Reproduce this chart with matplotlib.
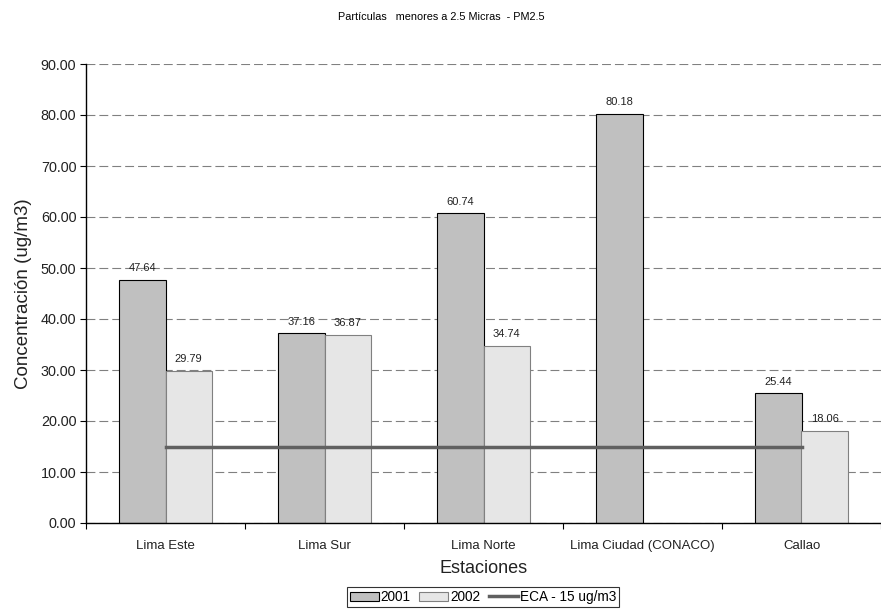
import numpy as np
import matplotlib
matplotlib.use("Agg")
import matplotlib.pyplot as plt

plt.rcParams['font.family'] = ['Liberation Sans', 'DejaVu Sans']

estaciones = ["Lima Este", "Lima Sur", "Lima Norte", "Lima Ciudad (CONACO)", "Callao"]
valores_2001 = [47.64, 37.16, 60.74, 80.18, 25.44]
valores_2002 = [29.79, 36.87, 34.74, np.nan, 18.06]
eca = [15, 15, 15, 15, 15]

fig = plt.figure(figsize=(8.81, 6.15), dpi=100)
ax = fig.add_axes([86 / 881, 1 - 523 / 615, 1 - 86 / 881, (523 - 64) / 615])

x = np.arange(len(estaciones))
w = 0.29
b1 = ax.bar(x - w / 2, valores_2001, w, color="#c0c0c0", edgecolor="#000000", linewidth=0.8, label="2001", zorder=2)
v2 = np.array(valores_2002, dtype=float)
mask = ~np.isnan(v2)
b2 = ax.bar(x[mask] + w / 2, v2[mask], w, color="#e6e6e6", edgecolor="#808080", linewidth=0.8, label="2002", zorder=2)
ln, = ax.plot(x, eca, color="#606060", linewidth=2.5, label="ECA - 15 ug/m3", zorder=3)

for xi, v in zip(x, valores_2001):
    ax.text(xi - w / 2, v + 1.3, f"{v:.2f}", ha="center", va="bottom", fontsize=8, color="#222222")
for xi, v in zip(x[mask], v2[mask]):
    ax.text(xi + w / 2, v + 1.3, f"{v:.2f}", ha="center", va="bottom", fontsize=8, color="#222222")

ax.set_xlim(-0.5, len(estaciones) - 0.5)
ax.set_ylim(0, 90)
ax.set_yticks(np.arange(0, 91, 10))
ax.set_yticklabels([f"{t:.2f}" for t in np.arange(0, 91, 10)], fontsize=10.4, color="#222222")
ax.yaxis.grid(True, linestyle=(0, (8, 3.6)), color="#808080", linewidth=0.8, zorder=0)
ax.set_axisbelow(True)

ax.set_xticks(np.arange(-0.5, len(estaciones), 1.0))
ax.set_xticklabels([])
ax.set_xticks(x, minor=True)
ax.set_xticklabels(estaciones, minor=True, fontsize=9.5, color="#222222")
ax.tick_params(axis="x", which="minor", length=0, pad=12)
ax.tick_params(axis="x", which="major", length=4, direction="out")
ax.tick_params(axis="y", length=4, direction="out", pad=3)

for s in ["top", "right"]:
    ax.spines[s].set_visible(False)
ax.spines["left"].set_linewidth(1.0)
ax.spines["bottom"].set_linewidth(1.0)

ax.set_ylabel("Concentración (ug/m3)", fontsize=13.5, labelpad=6, color="#222222")
ax.set_xlabel("Estaciones", fontsize=13, labelpad=6, color="#222222")

fig.text(441 / 881, 1 - 17 / 615, "Partículas   menores a 2.5 Micras  - PM2.5", ha="center", va="center", fontsize=7.8)

leg = ax.legend(handles=[b1, b2, ln], loc="center", bbox_to_anchor=(483 / 881, 1 - 597 / 615), bbox_transform=fig.transFigure,
                ncol=3, fontsize=9.8, frameon=True, fancybox=False, edgecolor="#000000",
                handlelength=2.1, handleheight=0.6, handletextpad=0.15, columnspacing=0.65, borderpad=0.25)
leg.get_frame().set_linewidth(0.8)

fig.savefig("out.png", dpi=100)
